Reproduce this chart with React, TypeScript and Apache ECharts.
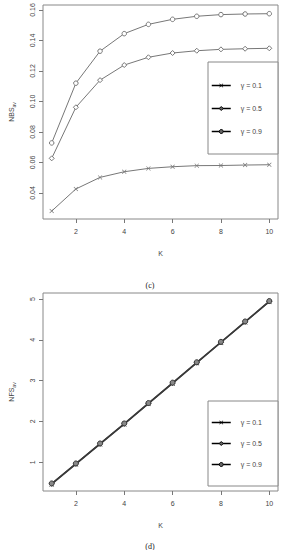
import React, { useEffect, useRef } from "react";
import * as echarts from "echarts";

const K = [1, 2, 3, 4, 5, 6, 7, 8, 9, 10];
const seriesNames = ["γ = 0.1", "γ = 0.5", "γ = 0.9"];

// (c) NBS_av
const nbs01 = [0.0281, 0.0426, 0.0502, 0.0539, 0.0561, 0.0572, 0.0579, 0.058, 0.0583, 0.0585];
const nbs05 = [0.0627, 0.0962, 0.114, 0.1239, 0.129, 0.1318, 0.1333, 0.1342, 0.1346, 0.1349];
const nbs09 = [0.0728, 0.112, 0.133, 0.1445, 0.1506, 0.1539, 0.1559, 0.157, 0.1574, 0.1576];

// (d) NFS_av
const nfs01 = [0.46, 0.95, 1.44, 1.93, 2.43, 2.93, 3.43, 3.93, 4.43, 4.93];
const nfs05 = [0.47, 0.96, 1.45, 1.94, 2.44, 2.94, 3.44, 3.94, 4.44, 4.94];
const nfs09 = [0.48, 0.97, 1.46, 1.95, 2.45, 2.95, 3.45, 3.95, 4.45, 4.95];

const xTicks = [2, 4, 6, 8, 10];
const yTicksC = [0.04, 0.06, 0.08, 0.1, 0.12, 0.14, 0.16];
const yTicksD = [1, 2, 3, 4, 5];

const CROSS = "path://M0,1L1,0L5,4L9,0L10,1L6,5L10,9L9,10L5,6L1,10L0,9L4,5Z";
const symbols = [CROSS, "diamond", "circle"];

const FONT = "Liberation Sans";

export default function App() {
  const ref = useRef<HTMLDivElement>(null);
  useEffect(() => {
    if (!ref.current) return;
    const chart = echarts.init(ref.current, undefined, { renderer: "svg" });

    const pair = (vals: number[]) => K.map((k, i) => [k, vals[i]]);

    const xAxisBase = (gridIndex: number) => ({
      type: "value" as const,
      gridIndex,
      min: 0.64,
      max: 10.36,
      name: "K",
      nameLocation: "middle" as const,
      nameGap: 31,
      nameTextStyle: { fontFamily: FONT, fontSize: 7, color: "#444" },
      axisLine: { show: false },
      splitLine: { show: false },
      axisTick: { show: true, length: 4, customValues: xTicks, lineStyle: { color: "#777" } },
      axisLabel: { customValues: xTicks, fontFamily: FONT, fontSize: 7, color: "#444", margin: 9 },
    });

    const yAxisBase = (gridIndex: number, min: number, max: number, ticks: number[], nm: string, dec: number) => ({
      type: "value" as const,
      gridIndex,
      min,
      max,
      name: `{a|${nm}}{b|av}`,
      nameLocation: "middle" as const,
      nameRotate: 90,
      nameGap: 27,
      nameTextStyle: {
        fontFamily: FONT,
        color: "#444",
        rich: {
          a: { fontSize: 7, fontFamily: FONT, color: "#444" },
          b: { fontSize: 5, fontFamily: FONT, color: "#444", padding: [4, 0, 0, 0] },
        },
      },
      axisLine: { show: false },
      splitLine: { show: false },
      axisTick: { show: true, length: 4, customValues: ticks, lineStyle: { color: "#777" } },
      axisLabel: {
        customValues: ticks,
        rotate: 90,
        fontFamily: FONT,
        fontSize: 7,
        color: "#444",
        margin: 7,
        formatter: (v: number) => v.toFixed(dec),
      },
    });

    const topColor = "#777";
    const botColor = "#3a3a3a";
    const topData = [nbs01, nbs05, nbs09];
    const botData = [nfs01, nfs05, nfs09];

    const series: any[] = [];
    topData.forEach((d, i) => {
      series.push({
        type: "line",
        name: seriesNames[i],
        xAxisIndex: 0,
        yAxisIndex: 0,
        data: pair(d),
        symbol: symbols[i],
        symbolSize: i === 1 ? 5 : 4.5,
        showAllSymbol: true,
        lineStyle: { color: topColor, width: 1 },
        itemStyle: i === 0
          ? { color: topColor }
          : { color: "#fff", borderColor: topColor, borderWidth: 1 },
        emphasis: { disabled: true },
      });
    });
    botData.forEach((d, i) => {
      series.push({
        type: "line",
        name: seriesNames[i],
        xAxisIndex: 1,
        yAxisIndex: 1,
        data: pair(d),
        symbol: symbols[i],
        symbolSize: 5,
        showAllSymbol: true,
        lineStyle: { color: botColor, width: 1.2 },
        itemStyle: i === 0
          ? { color: botColor }
          : { color: "#888", borderColor: botColor, borderWidth: 1 },
        emphasis: { disabled: true },
      });
    });

    const legendData = seriesNames.map((n, i) => ({
      name: n,
      itemStyle: i === 0
        ? { color: "#000", borderWidth: 0 }
        : { color: "#666", borderColor: "#000", borderWidth: 1 },
      lineStyle: { color: "#000", width: 1.5 },
    }));

    const legendBase = {
      orient: "vertical" as const,
      left: 208,
      itemWidth: 19,
      itemHeight: 5,
      selectedMode: false,
      borderColor: "#888",
      borderWidth: 1,
      backgroundColor: "#fff",
      data: legendData,
      textStyle: { fontFamily: FONT, fontSize: 7, color: "#444", padding: [0, 0, 0, 5] },
    };

    chart.setOption({
      animation: false,
      backgroundColor: "#fff",
      grid: [
        { left: 39, top: 5, width: 239, height: 214, show: true, borderColor: "#888", borderWidth: 1, backgroundColor: "transparent" },
        { left: 39, top: 293, width: 239, height: 198, show: true, borderColor: "#888", borderWidth: 1, backgroundColor: "transparent" },
      ],
      xAxis: [xAxisBase(0), xAxisBase(1)],
      yAxis: [
        yAxisBase(0, 0.0229, 0.1633, yTicksC, "NBS", 2),
        yAxisBase(1, 0.294, 5.147, yTicksD, "NFS", 0),
      ],
      legend: [
        { ...legendBase, top: 62, padding: [20, 16, 19, 3], itemGap: 16 },
        { ...legendBase, top: 401, padding: [18, 16, 18, 3], itemGap: 14 },
      ],
      graphic: [
        { type: "text", x: 150, y: 285, style: { text: "(c)", font: "8px 'Liberation Serif'", fill: "#222", align: "center", verticalAlign: "middle" } },
        { type: "text", x: 150, y: 546, style: { text: "(d)", font: "8px 'Liberation Serif'", fill: "#222", align: "center", verticalAlign: "middle" } },
      ],
      series,
    });

    return () => chart.dispose();
  }, []);

  return (
    <div
      ref={ref}
      style={{ position: "absolute", left: 0, top: 0, width: 283, height: 550 }}
    />
  );
}
